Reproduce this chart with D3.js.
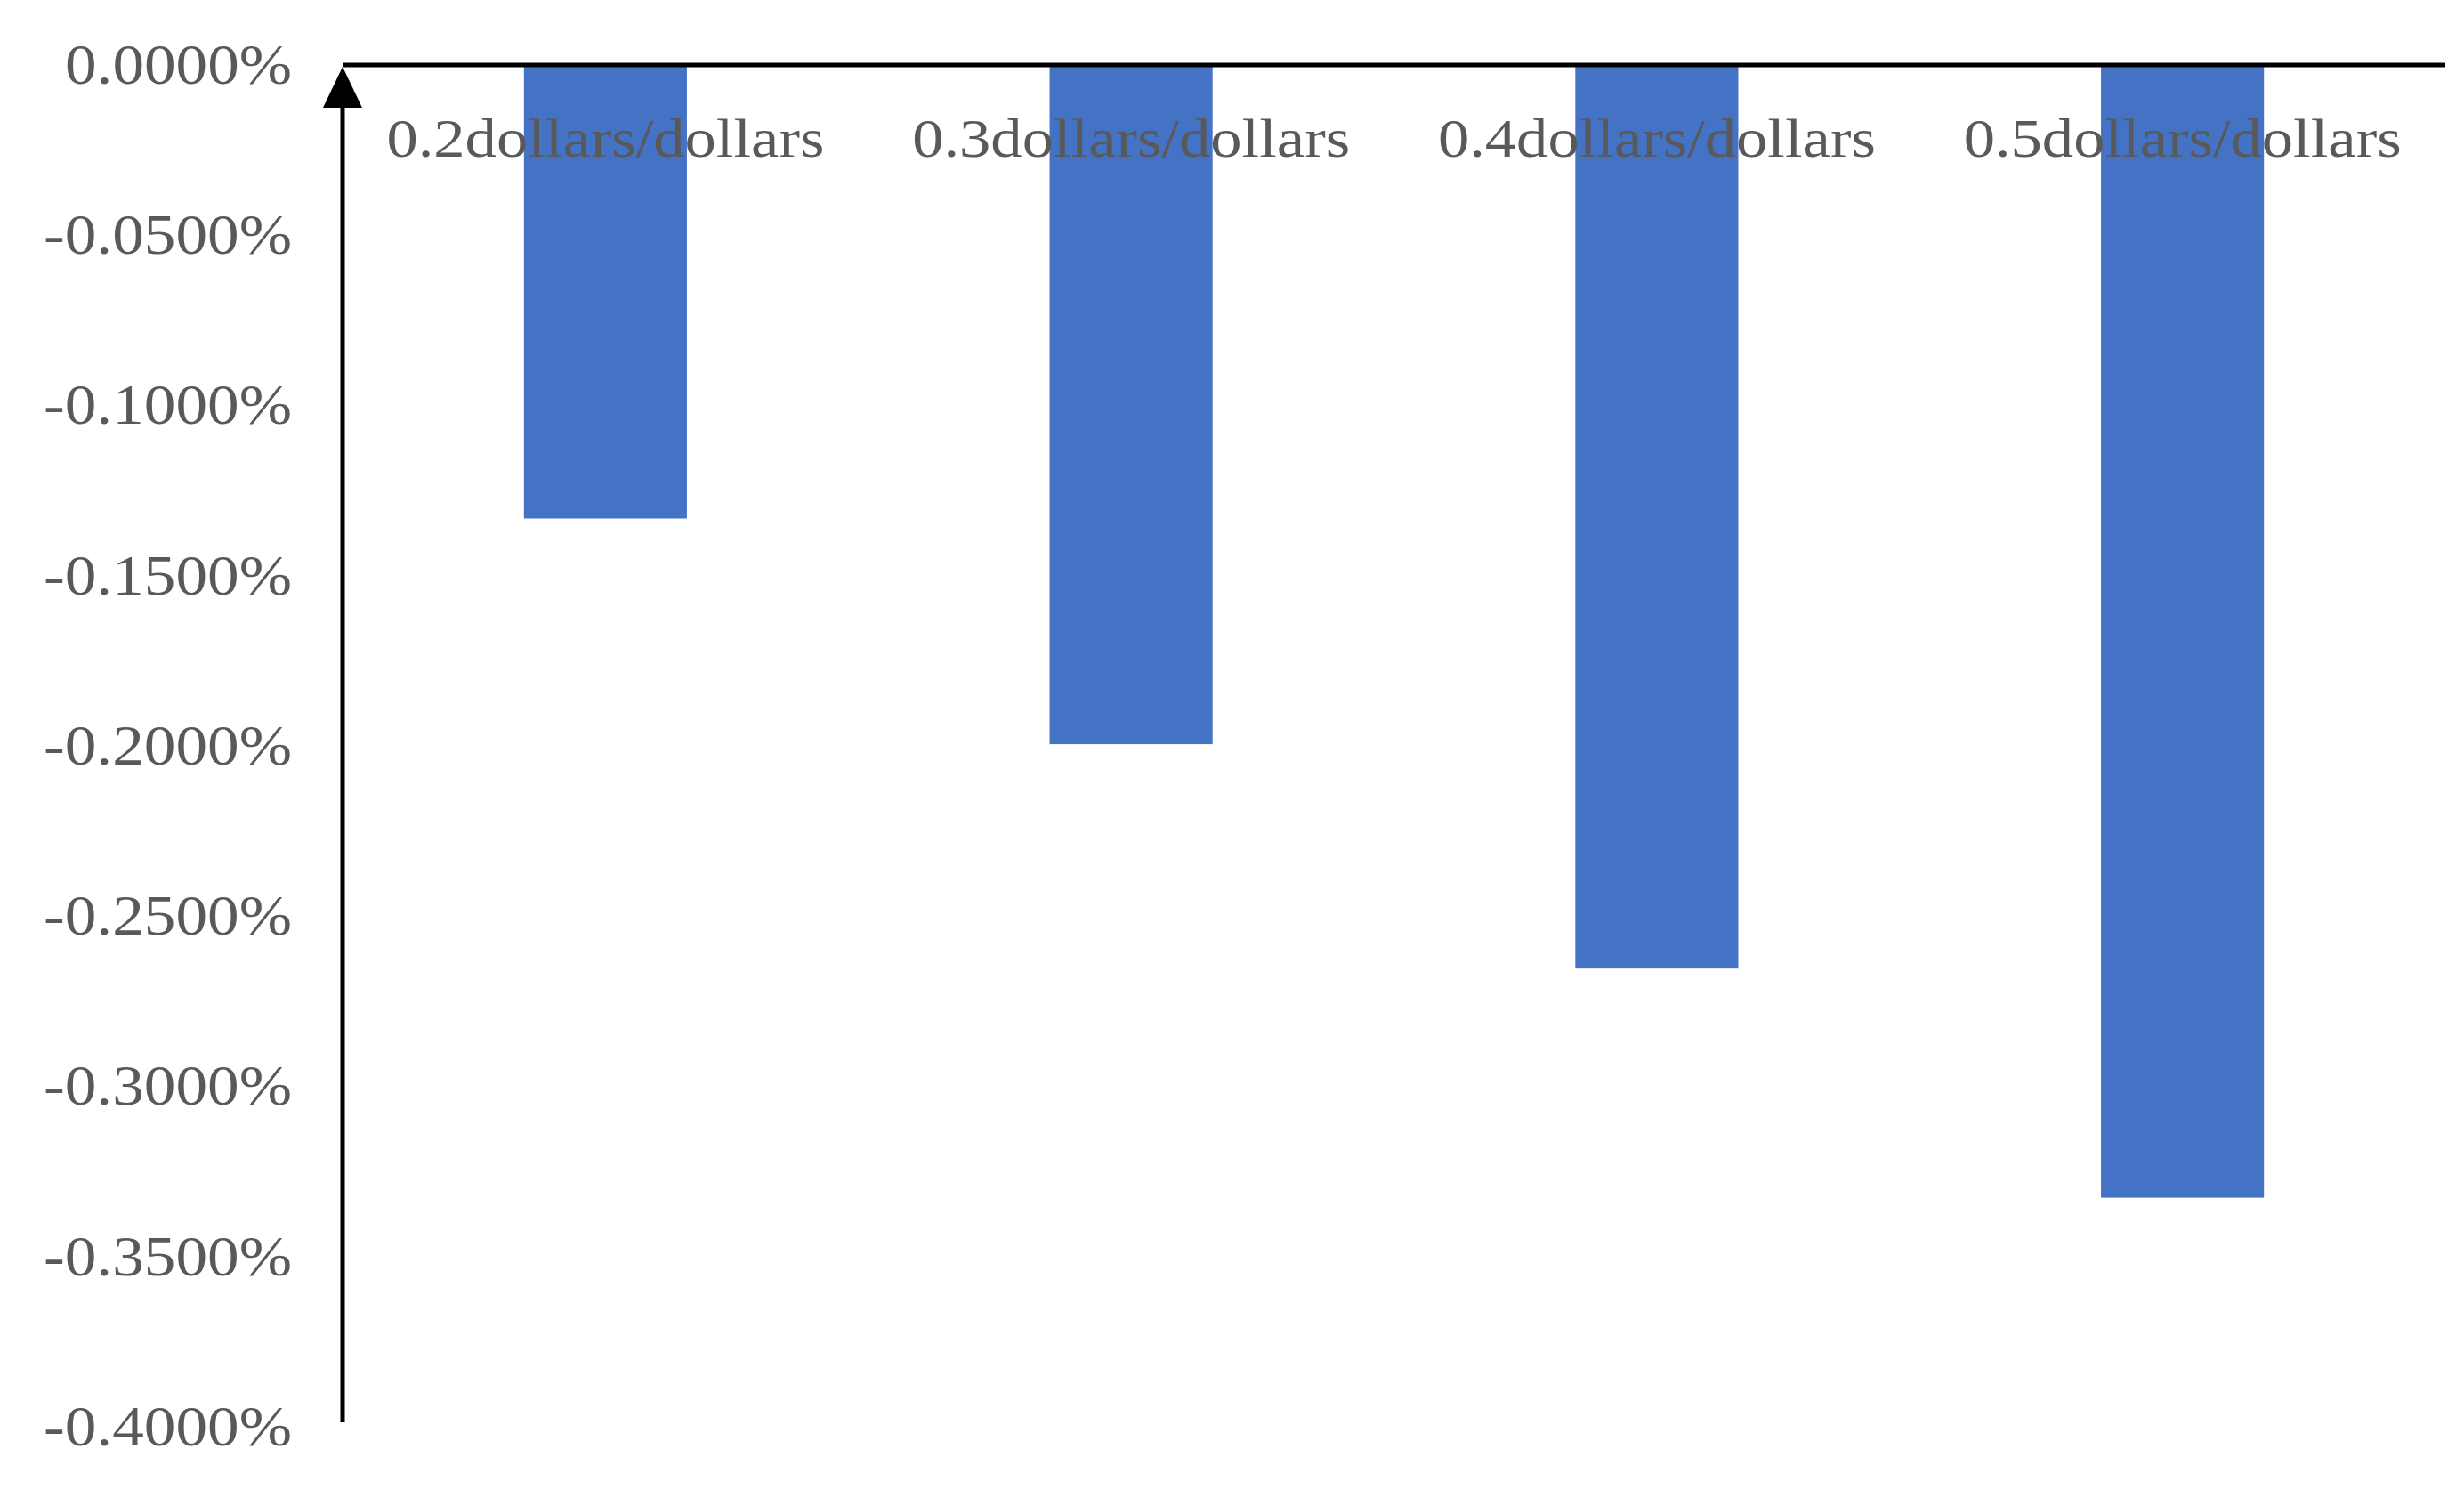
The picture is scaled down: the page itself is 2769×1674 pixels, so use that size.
<!DOCTYPE html>
<html>
<head>
<meta charset="utf-8">
<script src="https://cdn.jsdelivr.net/npm/d3@7"></script>
<style>
  body { margin: 0; background: #fff; }
  text { font-family: "Liberation Serif", "Times New Roman", serif; fill: #595959; }
</style>
</head>
<body>
<svg id="chart" width="2769" height="1674"></svg>
<script>
// Chart data
var categories = ["0.2dollars/dollars", "0.3dollars/dollars", "0.4dollars/dollars", "0.5dollars/dollars"];
var values = [-0.1332, -0.1995, -0.2654, -0.3327]; // percent
var yTicks = [0, -0.05, -0.1, -0.15, -0.2, -0.25, -0.3, -0.35, -0.4];

var svg = d3.select("#chart");
var plotLeft = 385, plotRight = 2748, plotTop = 73, plotBottom = 1603;

var x = d3.scaleBand().domain(categories).range([plotLeft, plotRight]).paddingInner(0.69).paddingOuter(0.345);
var y = d3.scaleLinear().domain([0, -0.4]).range([plotTop, plotBottom]);

// Bars
svg.selectAll("rect.bar").data(values).enter().append("rect")
	.attr("class", "bar")
	.attr("x", function(d, i) { return x(categories[i]); })
	.attr("y", y(0))
	.attr("width", x.bandwidth())
	.attr("height", function(d) { return y(d) - y(0); })
	.attr("fill", "#4472C4");

// Y axis labels (no tick marks)
var yAxis = d3.axisLeft(y).tickValues(yTicks).tickSize(0).tickPadding(0)
	.tickFormat(function(d) { return d.toFixed(4) + "%"; });
var gy = svg.append("g").attr("transform", "translate(328,0)").call(yAxis);
gy.select(".domain").remove();
gy.selectAll("text")
	.attr("font-size", 64)
	.attr("textLength", function(d) { return d < 0 ? 279 : 255; })
	.attr("lengthAdjust", "spacingAndGlyphs")
	.style("fill", "#595959")
	.style("font-family", "Liberation Serif");

// Axis lines
svg.append("line").attr("x1", plotLeft).attr("x2", plotRight).attr("y1", y(0)).attr("y2", y(0))
	.attr("stroke", "#000").attr("stroke-width", 5);
svg.append("line").attr("x1", plotLeft).attr("x2", plotLeft).attr("y1", y(0) + 40).attr("y2", 1598)
	.attr("stroke", "#000").attr("stroke-width", 5);
svg.append("path")
	.attr("d", "M" + plotLeft + "," + (y(0) + 2) + " l-22,46 l44,0 z")
	.attr("fill", "#000");

// Category labels
svg.selectAll("text.cat").data(categories).enter().append("text")
	.attr("class", "cat")
	.attr("x", function(d) { return x(d) + x.bandwidth() / 2; })
	.attr("y", 176)
	.attr("text-anchor", "middle")
	.attr("font-size", 62)
	.attr("textLength", 492)
	.attr("lengthAdjust", "spacingAndGlyphs")
	.text(function(d) { return d; });
</script>
</body>
</html>
